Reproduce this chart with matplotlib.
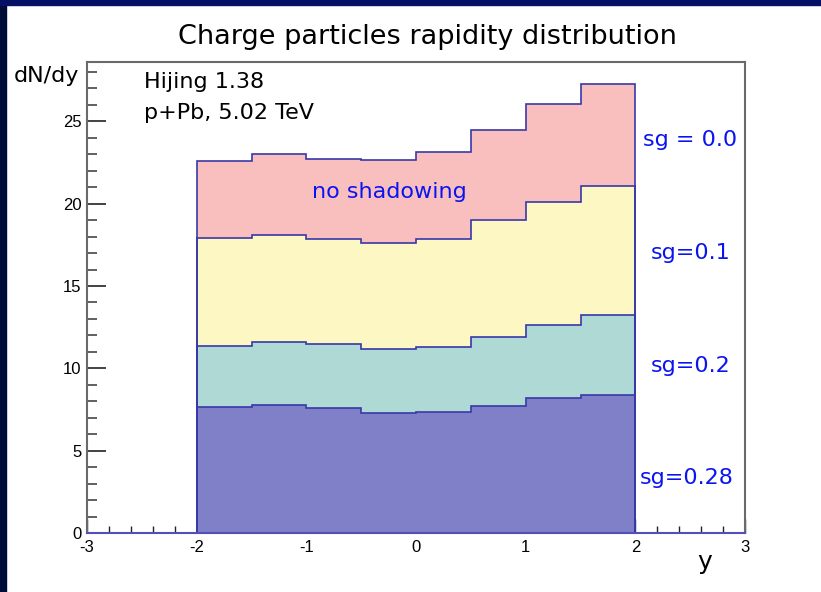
import numpy as np
import matplotlib
matplotlib.use("Agg")
import matplotlib.pyplot as plt
from matplotlib.ticker import MultipleLocator

plt.rcParams['axes.unicode_minus'] = False

# bin edges in rapidity
edges = [-2.0, -1.5, -1.0, -0.5, 0.0, 0.5, 1.0, 1.5, 2.0]

# dN/dy per bin
sg_00 = [22.6, 23.0, 22.7, 22.65, 23.15, 24.5, 26.05, 27.25]
sg_01 = [17.9, 18.1, 17.87, 17.6, 17.87, 18.98, 20.1, 21.05]
sg_02 = [11.38, 11.62, 11.47, 11.18, 11.28, 11.9, 12.65, 13.25]
sg_028 = [7.65, 7.77, 7.61, 7.27, 7.33, 7.71, 8.17, 8.38]

series = [sg_00, sg_01, sg_02, sg_028]
colors = ['#f9bfbf', '#fcf7c3', '#afd9d4', '#8080c8']
labels = ['sg = 0.0', 'sg=0.1', 'sg=0.2', 'sg=0.28']
label_y = [23.85, 17.0, 10.15, 3.35]
label_x = [2.07, 2.14, 2.14, 2.04]

fig = plt.figure(figsize=(8.21, 5.92), dpi=100)
fig.patch.set_facecolor('white')

# slide background bits
fig.patches.append(plt.Rectangle((0, 0), 6/821, 1, transform=fig.transFigure,
                                 color='#000c38', zorder=0))
fig.patches.append(plt.Rectangle((0, 1 - 5/592), 1, 5/592, transform=fig.transFigure,
                                 color='#031066', zorder=0))

ax = fig.add_axes([87/821, 59/592, 658/821, 471/592])

for vals, c in zip(series, colors):
    ax.stairs(vals, edges, baseline=0, fill=True, facecolor=c, zorder=2)
    ax.stairs(vals, edges, baseline=0, color='#3838a8', linewidth=1.2, zorder=3)

ax.set_xlim(-3, 3)
ax.set_ylim(0, 28.6)

ax.xaxis.set_major_locator(MultipleLocator(1))
ax.xaxis.set_minor_locator(MultipleLocator(0.2))
ax.yaxis.set_major_locator(MultipleLocator(5))
ax.yaxis.set_minor_locator(MultipleLocator(1))

ax.tick_params(axis='x', which='major', direction='in', length=10, width=1, color='#222222',
               labelsize=12, pad=5, top=False)
ax.tick_params(axis='x', which='minor', direction='in', length=5, width=1, color='#222222', top=False)
ax.tick_params(axis='y', which='major', direction='in', length=14, width=1.2, color='#222222',
               labelsize=12, pad=4, right=False)
ax.tick_params(axis='y', which='minor', direction='in', length=7, width=1.2, color='#444444', right=False)
for lab in ax.get_xticklabels() + ax.get_yticklabels():
    lab.set_family('Liberation Sans')

for s in ax.spines.values():
    s.set_color('#6a6a6a')
    s.set_linewidth(1.5)
    s.set_zorder(4)
ax.spines['bottom'].set_color('#5050b8')

for xx, yy, t in zip(label_x, label_y, labels):
    ax.text(xx, yy, t, color='#0a14f0', fontsize=16, va='center', ha='left')

ax.text(-0.24, 20.7, 'no shadowing', color='#0a14f0', fontsize=16, ha='center', va='center')
ax.text(-2.48, 27.4, 'Hijing 1.38', color='black', fontsize=16, ha='left', va='center')
ax.text(-2.48, 25.5, 'p+Pb, 5.02 TeV', color='black', fontsize=16, ha='left', va='center')

fig.text(427/821, 1 - 37/592, 'Charge particles rapidity distribution', fontsize=19.5,
         ha='center', va='center')
fig.text(14/821, 1 - 76/592, 'dN/dy', fontsize=16, ha='left', va='center')
fig.text(705/821, 1 - 562/592, 'y', fontsize=18, ha='center', va='center')

fig.savefig('out.png', dpi=100)
